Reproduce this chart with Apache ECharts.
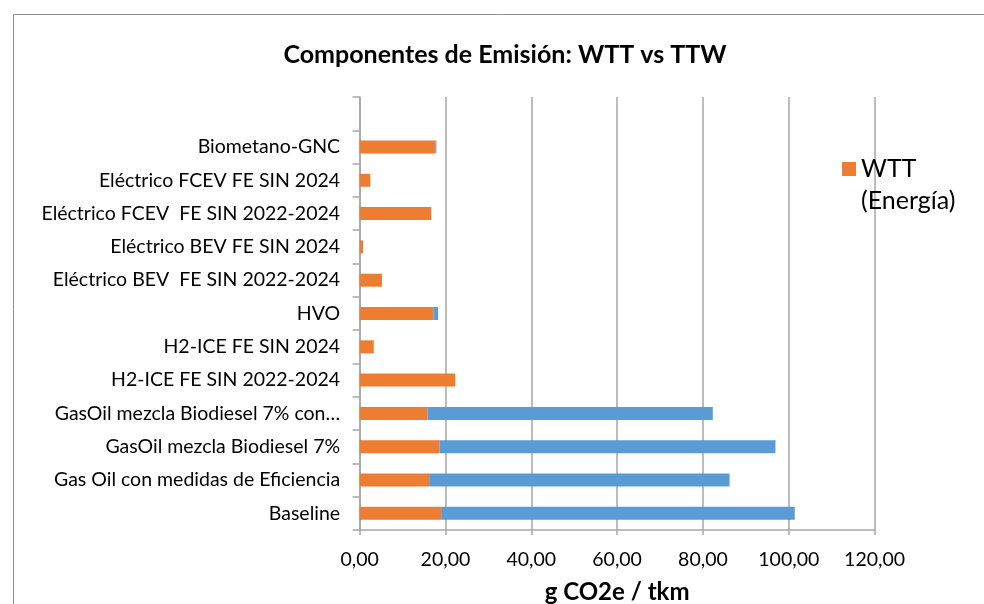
<!DOCTYPE html>
<html>
<head>
<meta charset="utf-8">
<script src="https://cdn.jsdelivr.net/npm/echarts@6/dist/echarts.min.js"></script>
<style>html,body{margin:0;padding:0;background:#fff;}#c{width:984px;height:604px;}</style>
</head>
<body>
<div id="c"></div>
<script>
const categories = [
  'Baseline',
  'Gas Oil con medidas de Eficiencia',
  'GasOil mezcla Biodiesel 7%',
  'GasOil mezcla Biodiesel 7% con…',
  'H2-ICE FE SIN 2022-2024',
  'H2-ICE FE SIN 2024',
  'HVO',
  'Eléctrico BEV  FE SIN 2022-2024',
  'Eléctrico BEV FE SIN 2024',
  'Eléctrico FCEV  FE SIN 2022-2024',
  'Eléctrico FCEV FE SIN 2024',
  'Biometano-GNC',
  ''
];
const wttValues = [19.0, 16.2, 18.6, 15.8, 22.3, 3.3, 17.2, 5.2, 0.8, 16.7, 2.5, 17.7, null];
const ttwValues = [82.4, 70.0, 78.3, 66.5, 0, 0, 1.1, 0, 0, 0, 0, 0.2, null];
const xTicks = { min: 0, max: 120, interval: 20 };

const FONT = 'Lato';
const LH = 32;
const chart = echarts.init(document.getElementById('c'), null, { renderer: 'canvas' });
chart.setOption({
  animation: false,
  backgroundColor: '#fff',
  textStyle: { fontFamily: FONT },
  title: {
    text: 'Componentes de Emisión: WTT vs TTW',
    left: 500, textAlign: 'center', top: 37,
    textStyle: { fontFamily: FONT, fontWeight: 'bold', fontSize: 25, color: '#000' }
  },
  legend: {
    left: 837, top: 116,
    orient: 'vertical',
    itemWidth: 14, itemHeight: 14, itemGap: 8,
    data: [{ name: 'WTT (Energía)', icon: 'rect' }],
    formatter: function (n) { return '\n' + n.replace(' ', '\n'); },
    textStyle: { fontFamily: FONT, fontSize: 25, lineHeight: LH, color: '#000' }
  },
  graphic: [{
    type: 'rect', silent: true, z: -1,
    shape: { x: 13.5, y: 14.5, width: 1200, height: 1000 },
    style: { fill: 'none', stroke: '#8c8c8c', lineWidth: 1 }
  }],
  grid: { left: 359.6, right: 109.4, top: 97, bottom: 74, containLabel: false, outerBoundsMode: 'none' },
  xAxis: {
    type: 'value', min: xTicks.min, max: xTicks.max, interval: xTicks.interval,
    name: 'g CO2e / tkm', nameLocation: 'middle', nameGap: 50,
    nameTextStyle: { fontFamily: FONT, fontWeight: 'bold', fontSize: 24, color: '#000' },
    axisLine: { show: true, lineStyle: { color: '#a6a6a6', width: 1.5 } },
    axisTick: { show: true, length: 5, lineStyle: { color: '#a6a6a6', width: 1.5 } },
    axisLabel: {
      margin: 20, fontSize: 19.5, color: '#000', fontFamily: FONT,
      formatter: function (v) { return v.toFixed(2).replace('.', ','); }
    },
    splitLine: { show: true, lineStyle: { color: '#a6a6a6', width: 1.5 } }
  },
  yAxis: {
    type: 'category', data: categories,
    axisLine: { show: true, lineStyle: { color: '#a6a6a6', width: 1.5 } },
    axisTick: { show: true, length: 7, alignWithLabel: false, lineStyle: { color: '#a6a6a6', width: 1.5 } },
    axisLabel: { margin: 19.5, fontSize: 19.5, color: '#000', fontFamily: FONT, interval: 0 },
    splitLine: { show: false }
  },
  series: [
    {
      name: 'WTT (Energía)', type: 'bar', stack: 'total', data: wttValues,
      barWidth: 13, itemStyle: { color: '#ED7D31' }
    },
    {
      name: 'TTW (Combustión)', type: 'bar', stack: 'total', data: ttwValues,
      barWidth: 13, itemStyle: { color: '#5B9BD5' }
    }
  ]
});
</script>
</body>
</html>
